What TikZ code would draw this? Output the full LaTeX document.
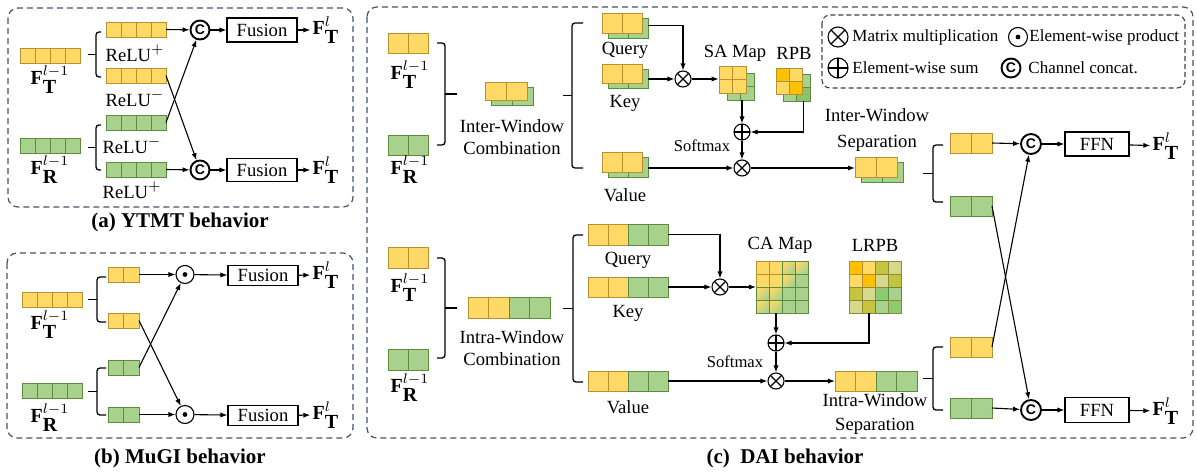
\documentclass[tikz,border=0pt]{standalone}
\usepackage{fontspec}
\setmainfont{Liberation Serif}
\setsansfont{Liberation Sans}
\usetikzlibrary{positioning,arrows.meta,fit,calc}

\definecolor{yF}{HTML}{FFD966}
\definecolor{yD}{HTML}{B8912F}
\definecolor{gF}{HTML}{A9D18E}
\definecolor{gD}{HTML}{5E8C3E}
\definecolor{oF}{HTML}{FFC000}
\colorlet{oD}{yD}
\definecolor{dF}{HTML}{8CC46C}
\colorlet{dD}{gD}
\colorlet{sF}{yF}
\colorlet{sD}{gD}
\definecolor{lF}{HTML}{C5C43F}
\definecolor{lD}{HTML}{8F8A36}
\definecolor{mF}{HTML}{D6D98B}
\colorlet{mD}{lD}
\definecolor{nF}{HTML}{8DCA72}
\colorlet{nD}{lD}
\definecolor{panelc}{HTML}{44546A}

\tikzset{
    cell/.style={draw=#1D, fill=#1F, line width=0.5pt, cell #1/.try},
    cell s/.style={top color=yF, bottom color=gF, shading angle=45},
    panel/.style={draw=panelc, dash pattern=on 3pt off 2pt, rounded corners=5pt, line width=0.6pt},
    legendbox/.style={draw=black!75, dash pattern=on 2.5pt off 1.5pt, rounded corners=4pt, line width=0.55pt},
    arr/.style={-{Latex[length=3.5pt,width=2.6pt]}, line width=0.55pt},
    brace/.style={line width=0.65pt, rounded corners=1.5pt},
    opnode/.style={circle, draw, fill=white, line width=0.55pt, inner sep=0pt, minimum size=8pt},
    mul/.style={opnode, path picture={
        \draw[black, line width=0.55pt] (path picture bounding box.north west) -- (path picture bounding box.south east)
                                 (path picture bounding box.north east) -- (path picture bounding box.south west);}},
    add/.style={opnode, path picture={
        \draw[black, line width=0.55pt] (path picture bounding box.north) -- (path picture bounding box.south)
                                 (path picture bounding box.west) -- (path picture bounding box.east);}},
    dotp/.style={opnode, minimum size=9pt, path picture={\fill[black] (path picture bounding box.center) circle (1.2pt);}},
    cat/.style={opnode, minimum size=9.5pt, line width=0.95pt, font=\sffamily\bfseries\fontsize{7}{7}\selectfont},
    fusebox/.style={draw, line width=0.55pt, minimum width=35pt, minimum height=11pt, inner sep=0pt,
        font=\fontsize{9.3}{11}\selectfont},
    flabel/.style={font=\fontsize{10}{12}\selectfont, inner sep=1pt},
    txt/.style={font=\fontsize{9.3}{11}\selectfont, inner sep=0pt},
    small/.style={font=\fontsize{8.3}{10}\selectfont, inner sep=0pt},
    legtxt/.style={font=\fontsize{8.5}{10}\selectfont, anchor=west, inner sep=0pt},
    title/.style={font=\bfseries\fontsize{10.5}{12}\selectfont, inner sep=0pt}
}

% barra di celle: nome, x, y, larghezza cella, altezza, colori
\newcommand{\featbar}[6]{%
    \coordinate (#1-a) at (#2,#3);
    \foreach \col [count=\k from 0] in {#6}{
        \draw[cell=\col] (#2+\k*#4,#3) rectangle ++(#4,#5);
        \coordinate (#1-b) at (#2+\k*#4+#4,#3+#5);
    }
    \node[fit=(#1-a)(#1-b), inner sep=0pt, outer sep=0pt] (#1) {};
}
% barra gialla sopra barra verde
\newcommand{\stackbar}[7]{%
    \featbar{#1-g}{#2+6}{#3+5}{#4}{#5}{#7}
    \featbar{#1-y}{#2}{#3}{#4}{#5}{#6}
    \node[fit=(#1-y)(#1-g), inner sep=0pt, outer sep=0pt] (#1) {};
}
% mappa di celle: nome, x, y, lato cella, righe
\newcommand{\featmap}[5]{%
    \coordinate (#1-a) at (#2,#3);
    \foreach \row [count=\r from 0] in {#5}
        \foreach \col [count=\k from 0] in \row {
            \draw[cell=\col] (#2+\k*#4,#3+\r*#4) rectangle ++(#4,#4);
            \coordinate (#1-b) at (#2+\k*#4+#4,#3+\r*#4+#4);
        }
    \node[fit=(#1-a)(#1-b), inner sep=0pt, outer sep=0pt] (#1) {};
}

\begin{document}
\begin{tikzpicture}[x=0.5pt, y=-0.5pt]
    \useasboundingbox (0,0) rectangle (1197,471);

    % (a) YTMT
    \draw[panel] (8,8) rectangle (353,207);
    \featbar{aT}{20}{48}{15}{15}{y,y,y,y}
    \featbar{aR}{20}{138}{15}{15}{g,g,g,g}
    \node[flabel] (aTl) at (50,80) {$\textbf{F}_{\textbf{T}}^{l-1}$};
    \node[flabel] (aRl) at (50,170) {$\textbf{F}_{\textbf{R}}^{l-1}$};
    \draw[brace] (101,32) -- (96,32) -- (96,77) -- (101,77);
    \draw[brace] (96,54.5) -- (88,54.5);
    \draw[brace] (101,125) -- (96,125) -- (96,170) -- (101,170);
    \draw[brace] (96,147.5) -- (88,147.5);
    \featbar{aP1}{106}{22}{15}{15}{y,y,y,y}
    \featbar{aP2}{106}{68}{15}{15}{y,y,y,y}
    \featbar{aP3}{106}{115}{15}{15}{g,g,g,g}
    \featbar{aP4}{106}{162}{15}{15}{g,g,g,g}
    \node[txt] (aP1t) at (135,53) {ReLU$^{+}$};
    \node[txt] (aP2t) at (135,98) {ReLU$^{-}$};
    \node[txt] (aP3t) at (132,145) {ReLU$^{-}$};
    \node[txt] (aP4t) at (132,190) {ReLU$^{+}$};
    \node[cat] (aC1) at (200,30) {C};
    \node[cat] (aC2) at (200,170) {C};
    \node[fusebox, minimum height=12pt] (aF1) at (262,30) {Fusion};
    \node[fusebox, minimum height=11.5pt] (aF2) at (262,170) {Fusion};
    \node[flabel] (aO1) at (326,30) {$\textbf{F}_{\textbf{T}}^{l}$};
    \node[flabel] (aO2) at (326,170) {$\textbf{F}_{\textbf{T}}^{l}$};
    \draw[arr] (aP1.east) -- (aC1);
    \draw[arr] (aP4.east) -- (aC2);
    \draw[arr] (aP2.east) -- (aC2);
    \draw[arr] (aP3.east) -- (aC1);
    \draw[arr] (aC1) -- (aF1);
    \draw[arr] (aF1) -- (aO1);
    \draw[arr] (aC2) -- (aF2);
    \draw[arr] (aF2) -- (aO2);
    \node[title] (aTitle) at (180,222) {(a) YTMT behavior};

    % (b) MuGI
    \draw[panel] (7,253) rectangle (353,438);
    \featbar{bT}{22}{292}{15}{15}{y,y,y,y}
    \featbar{bR}{22}{383}{15}{15}{g,g,g,g}
    \node[flabel] (bTl) at (50,325) {$\textbf{F}_{\textbf{T}}^{l-1}$};
    \node[flabel] (bRl) at (50,418) {$\textbf{F}_{\textbf{R}}^{l-1}$};
    \draw[brace] (106,277) -- (97,277) -- (97,322) -- (106,322);
    \draw[brace] (97,299.5) -- (88,299.5);
    \draw[brace] (106,368) -- (97,368) -- (97,415) -- (106,415);
    \draw[brace] (97,391.5) -- (88,391.5);
    \featbar{bP1}{108}{267}{15.5}{15}{y,y}
    \featbar{bP2}{108}{313}{15.5}{15}{y,y}
    \featbar{bP3}{108}{360}{15.5}{15}{g,g}
    \featbar{bP4}{108}{407}{15.5}{15}{g,g}
    \node[dotp] (bD1) at (185,274.5) {};
    \node[dotp] (bD2) at (185,414.5) {};
    \node[fusebox, minimum height=10pt] (bF1) at (263,275.5) {Fusion};
    \node[fusebox, minimum height=10pt] (bF2) at (263,415.5) {Fusion};
    \node[flabel] (bO1) at (326,275) {$\textbf{F}_{\textbf{T}}^{l}$};
    \node[flabel] (bO2) at (326,415) {$\textbf{F}_{\textbf{T}}^{l}$};
    \draw[arr] (bP1.east) -- (bD1);
    \draw[arr] (bP4.east) -- (bD2);
    \draw[arr] (bP2.east) -- (bD2);
    \draw[arr] (bP3.east) -- (bD1);
    \draw[arr] (bD1) -- (bF1);
    \draw[arr] (bF1) -- (bO1);
    \draw[arr] (bD2) -- (bF2);
    \draw[arr] (bF2) -- (bO2);
    \node[title] (bTitle) at (180,458) {(b) MuGI behavior};

    % (c) DAI
    \draw[panel] (367,7) rectangle (1193,438);
    \draw[legendbox] (822,15) rectangle (1185,88);
    \node[mul, minimum size=10pt] (lgM) at (838,37) {};
    \node[legtxt] (lgMt) at (852,37) {Matrix multiplication};
    \node[dotp, minimum size=9.5pt] (lgD) at (1018,37) {};
    \node[legtxt] (lgDt) at (1029,37) {Element-wise product};
    \node[add, minimum size=10pt] (lgA) at (838,68) {};
    \node[legtxt] (lgAt) at (852,68) {Element-wise sum};
    \node[cat] (lgC) at (1011,68) {C};
    \node[legtxt] (lgCt) at (1028,68) {Channel concat.};

    % inter-window
    \featbar{cT1}{388}{33}{20}{20}{y,y}
    \featbar{cR1}{388}{135}{20}{20}{g,g}
    \node[flabel] (cT1l) at (410,75) {$\textbf{F}_{\textbf{T}}^{l-1}$};
    \node[flabel] (cR1l) at (410,170) {$\textbf{F}_{\textbf{R}}^{l-1}$};
    \draw[brace] (437,43) -- (445,43) -- (445,145) -- (437,145);
    \draw[brace] (445,94) -- (457,94);
    \stackbar{cC1}{485}{82}{21}{18}{y,y}{g,g}
    \node[txt, align=center] (cC1t) at (512,137.5) {Inter-Window\\Combination};
    \draw[brace] (583,23) -- (572,23) -- (572,168) -- (583,168);
    \draw[brace] (572,95.5) -- (563,95.5);
    \stackbar{qU}{602}{13}{20}{20}{y,y}{g,g}
    \stackbar{kU}{602}{64}{20}{19}{y,y}{g,g}
    \stackbar{vU}{602}{152}{20}{20}{y,y}{g,g}
    \node[txt] (qUt) at (625,50) {Query};
    \node[txt] (kUt) at (625,103) {Key};
    \node[txt] (vUt) at (625,195) {Value};
    \node[mul] (mA) at (683,79) {};
    \featmap{saG}{727}{73}{13.5}{{g,g},{g,g}}
    \featmap{saY}{719}{66}{13.5}{{y,y},{y,y}}
    \node[fit=(saY)(saG), inner sep=0pt] (saU) {};
    \node[txt] (saUt) at (735,53) {SA Map};
    \featmap{rpG}{783}{74}{13.5}{{g,g},{g,d}}
    \featmap{rpY}{776}{68}{13}{{o,y},{y,o}}
    \node[fit=(rpY)(rpG), inner sep=0pt] (rpU) {};
    \node[txt] (rpUt) at (794,53) {RPB};
    \node[add] (aA) at (742,132) {};
    \node[small] (smU) at (702,146) {Softmax};
    \node[mul] (mB) at (742,168) {};
    \stackbar{sU}{855}{157}{21}{20}{y,y}{g,g}
    \node[txt, align=center] (sUt) at (877,130) {Inter-Window\\[2pt]Separation};
    \draw[brace] (943,145) -- (933,145) -- (933,202) -- (943,202);
    \draw[brace] (933,173.5) -- (923,173.5);
    \featbar{oYU}{950}{133}{21}{20}{y,y}
    \featbar{oGU}{950}{196}{21}{20}{g,g}
    \node[cat, minimum size=10pt] (cU) at (1031,144) {C};
    \node[fusebox, minimum width=32pt, minimum height=12pt] (fU) at (1097,144) {FFN};
    \node[flabel] (oU) at (1166,146) {$\textbf{F}_{\textbf{T}}^{l}$};
    \draw[arr] (qU.east) -| (mA);
    \draw[arr] (kU.east |- mA) -- (mA);
    \draw[arr] (mA) -- (saU.west |- mA);
    \draw[arr] (aA |- saU.south) -- (aA);
    \draw[arr] ([xshift=-3.5pt]rpU.south east) |- (aA);
    \draw[arr] (aA) -- (mB);
    \draw[arr] (vU.east |- mB) -- (mB);
    \draw[arr] (mB) -- (sU.west |- mB);
    \draw[arr] (oYU.east) -- (cU);
    \draw[arr] (cU) -- (fU);
    \draw[arr] (fU) -- (oU);

    % intra-window
    \featbar{cT2}{388}{247}{20}{21}{y,y}
    \featbar{cR2}{388}{349}{20}{21}{g,g}
    \node[flabel] (cT2l) at (410,288) {$\textbf{F}_{\textbf{T}}^{l-1}$};
    \node[flabel] (cR2l) at (410,388) {$\textbf{F}_{\textbf{R}}^{l-1}$};
    \draw[brace] (437,258) -- (445,258) -- (445,358) -- (437,358);
    \draw[brace] (445,308) -- (457,308);
    \featbar{cC2}{468}{297}{20.5}{21}{y,y,g,g}
    \node[txt, align=center] (cC2t) at (512,348.5) {Intra-Window\\Combination};
    \draw[brace] (583,235) -- (573,235) -- (573,382) -- (583,382);
    \draw[brace] (573,308.5) -- (563,308.5);
    \featbar{qL}{588}{224}{20}{21}{y,y,g,g}
    \featbar{kL}{588}{277}{20}{20}{y,y,g,g}
    \featbar{vL}{588}{371}{20}{20}{y,y,g,g}
    \node[txt] (qLt) at (628,260) {Query};
    \node[txt] (kLt) at (628,313) {Key};
    \node[txt] (vLt) at (628,407) {Value};
    \node[mul] (mC) at (720,287) {};
    \featmap{ca}{756}{261}{13}{{y,y,s,s},{y,y,s,g},{s,s,g,g},{s,s,g,g}}
    \node[txt] (cat) at (780,245) {CA Map};
    \featmap{lr}{849}{261}{13}{{o,y,l,m},{y,o,m,l},{l,m,n,g},{m,l,g,n}}
    \node[txt] (lrt) at (875,245) {LRPB};
    \node[add] (aB) at (776,343) {};
    \node[small] (smL) at (735,362) {Softmax};
    \node[mul] (mD) at (776,381) {};
    \featbar{sL}{835}{371}{20.5}{20}{y,y,g,g}
    \node[txt, align=center] (sLt) at (875,414.5) {Intra-Window\\[1pt]Separation};
    \draw[brace] (943,347) -- (933,347) -- (933,410) -- (943,410);
    \draw[brace] (933,378.5) -- (923,378.5);
    \featbar{oYL}{950}{337}{21}{20}{y,y}
    \featbar{oGL}{950}{398}{21}{20}{g,g}
    \node[cat, minimum size=10pt] (cL) at (1031,410) {C};
    \node[fusebox, minimum width=32pt, minimum height=12.5pt] (fL) at (1097,410) {FFN};
    \node[flabel] (oL) at (1166,411) {$\textbf{F}_{\textbf{T}}^{l}$};
    \draw[arr] (qL.east) -| (mC);
    \draw[arr] (kL.east) -- (mC);
    \draw[arr] (mC) -- (ca.west |- mC);
    \draw[arr] (aB |- ca.south) -- (aB);
    \draw[arr] ([xshift=-3pt]lr.south) |- (aB);
    \draw[arr] (aB) -- (mD);
    \draw[arr] (vL.east) -- (mD);
    \draw[arr] (mD) -- (sL.west);
    \draw[arr] (oGL.east) -- (cL);
    \draw[arr] (cL) -- (fL);
    \draw[arr] (fL) -- (oL);

    % incrocio
    \draw[arr] (oYL.east) -- (cU);
    \draw[arr] (oGU.east) -- (cL);

    \node[title] (cTitle) at (785,458) {(c)\ \ DAI behavior};
\end{tikzpicture}
\end{document}
